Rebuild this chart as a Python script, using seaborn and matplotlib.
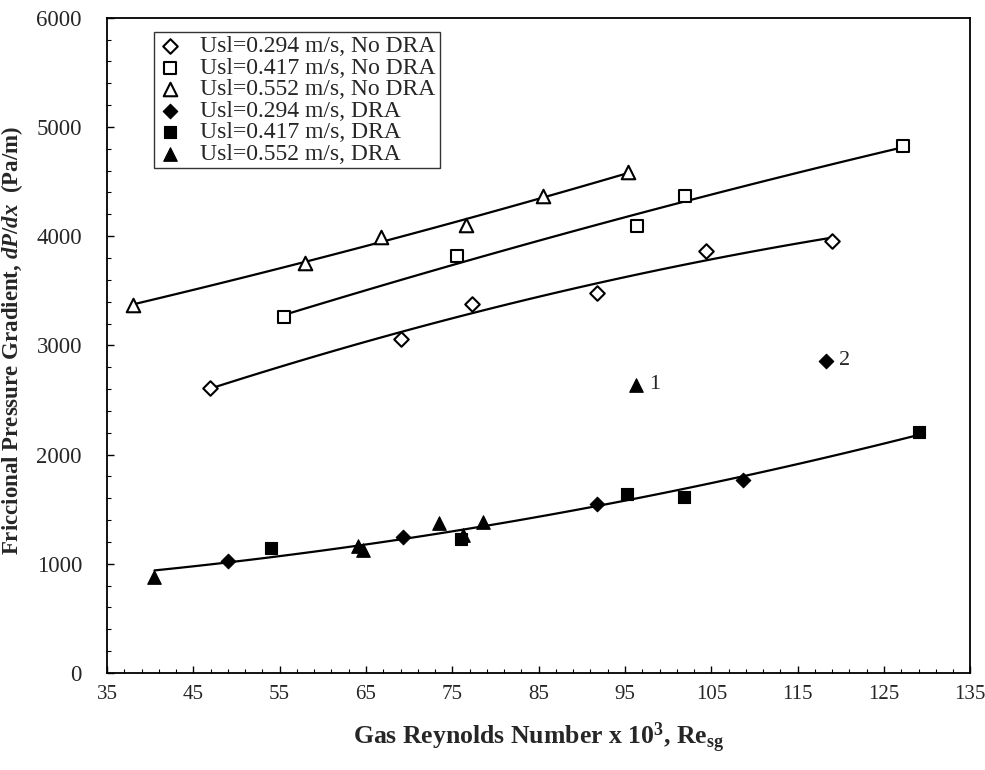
import numpy as np
import pandas as pd
import matplotlib
matplotlib.use("Agg")
import matplotlib.pyplot as plt
import seaborn as sns

# ---------------- data ----------------
x_nodra_294 = [46.9, 69.1, 77.3, 91.8, 104.4, 119.0]
y_nodra_294 = [2614, 3059, 3380, 3478, 3866, 3957]
x_nodra_417 = [55.5, 75.5, 96.4, 102.0, 127.2]
y_nodra_417 = [3255, 3817, 4095, 4372, 4821]
x_nodra_552 = [38.0, 57.9, 66.7, 76.6, 85.5, 95.3]
y_nodra_552 = [3371, 3758, 3991, 4104, 4363, 4583]

x_dra_294 = [49.0, 69.3, 91.8, 108.7]
y_dra_294 = [1029, 1249, 1545, 1768]
x_dra_417 = [54.0, 76.0, 95.2, 101.8, 129.0]
y_dra_417 = [1142, 1225, 1637, 1609, 2211]
x_dra_552 = [40.5, 64.1, 64.6, 73.5, 76.2, 78.5]
y_dra_552 = [882, 1160, 1125, 1370, 1265, 1380]

# outliers (not part of the fit)
x_out_552, y_out_552, lbl_out_552 = [96.3], [2638], "1"
x_out_294, y_out_294, lbl_out_294 = [118.3], [2861], "2"

labels = ["Usl=0.294 m/s, No DRA", "Usl=0.417 m/s, No DRA", "Usl=0.552 m/s, No DRA",
          "Usl=0.294 m/s, DRA", "Usl=0.417 m/s, DRA", "Usl=0.552 m/s, DRA"]
x_ticks = [35, 45, 55, 65, 75, 85, 95, 105, 115, 125, 135]
y_ticks = [0, 1000, 2000, 3000, 4000, 5000, 6000]

# ---------------- style ----------------
sns.set_style("ticks")
plt.rcParams["font.family"] = ["Liberation Serif", "DejaVu Serif"]
plt.rcParams["mathtext.fontset"] = "custom"
plt.rcParams["mathtext.rm"] = "Liberation Serif:bold"
plt.rcParams["mathtext.it"] = "Liberation Serif:italic:bold"
plt.rcParams["mathtext.bf"] = "Liberation Serif:bold"

fig = plt.figure(figsize=(9.85, 7.7), dpi=100)
ax = fig.add_axes([0.1086, 0.126, 0.8765, 0.851])

open_kw = dict(facecolor="white", edgecolor="black", linewidth=1.5, zorder=3)
fill_kw = dict(color="black", edgecolor="black", linewidth=0.8, zorder=3)

sns.scatterplot(x=x_nodra_294, y=y_nodra_294, marker="D", s=55, label=labels[0], ax=ax, **open_kw)
sns.scatterplot(x=x_nodra_417, y=y_nodra_417, marker="s", s=85, label=labels[1], ax=ax, **open_kw)
sns.scatterplot(x=x_nodra_552, y=y_nodra_552, marker="^", s=95, label=labels[2], ax=ax, **open_kw)
sns.scatterplot(x=x_dra_294 + x_out_294, y=y_dra_294 + y_out_294, marker="D", s=55, label=labels[3], ax=ax, **fill_kw)
sns.scatterplot(x=x_dra_417, y=y_dra_417, marker="s", s=85, label=labels[4], ax=ax, **fill_kw)
sns.scatterplot(x=x_dra_552 + x_out_552, y=y_dra_552 + y_out_552, marker="^", s=95, label=labels[5], ax=ax, **fill_kw)

line_kw = dict(color="black", lw=1.6, zorder=2)
for xs, ys in [(x_nodra_294, y_nodra_294), (x_nodra_417, y_nodra_417), (x_nodra_552, y_nodra_552),
               (x_dra_294 + x_dra_417 + x_dra_552, y_dra_294 + y_dra_417 + y_dra_552)]:
    sns.regplot(x=np.array(xs), y=np.array(ys), order=2, ci=None, scatter=False,
                truncate=True, line_kws=line_kw, ax=ax, label="_nolegend_")

ax.annotate(lbl_out_552, (x_out_552[0], y_out_552[0]), xytext=(9, 0), textcoords="offset points",
            ha="left", va="center", fontsize=16)
ax.annotate(lbl_out_294, (x_out_294[0], y_out_294[0]), xytext=(9, 0), textcoords="offset points",
            ha="left", va="center", fontsize=16)

ax.set_xlim(35, 135)
ax.set_ylim(0, 6000)
ax.set_xticks(x_ticks)
ax.set_yticks(y_ticks)
ax.set_xticks(np.arange(35, 136, 2), minor=True)
ax.set_yticks(np.arange(0, 6001, 200), minor=True)
ax.tick_params(axis="both", which="both", direction="in", color="black")
ax.tick_params(axis="both", which="major", length=5, width=1.0)
ax.tick_params(axis="both", which="minor", length=3, width=0.8)
ax.tick_params(axis="x", which="major", pad=9, labelsize=15)
ax.tick_params(axis="y", which="major", pad=18, labelsize=16.5)
for sp in ax.spines.values():
    sp.set_visible(True)
    sp.set_color("black")
    sp.set_linewidth(1.3)

ax.set_xlabel(r"Gas Reynolds Number x 10$^{3}$, Re$_{\mathrm{sg}}$", fontsize=18.5, fontweight="bold")
ax.xaxis.set_label_coords(0.5, -0.072)
ax.set_ylabel(r"Friccional Pressure Gradient, $dP/dx$  (Pa/m)", fontsize=16.5, fontweight="bold")
ax.yaxis.set_label_coords(-0.095, 0.507)

leg = ax.legend(loc="upper left", bbox_to_anchor=(0.055, 0.978), frameon=True, fancybox=False,
                edgecolor="black", fontsize=17, labelspacing=0.0, handletextpad=0.8,
                borderpad=0.15, handlelength=1.0, borderaxespad=0)
leg.get_frame().set_linewidth(1.0)

fig.savefig("out.png", dpi=100)
